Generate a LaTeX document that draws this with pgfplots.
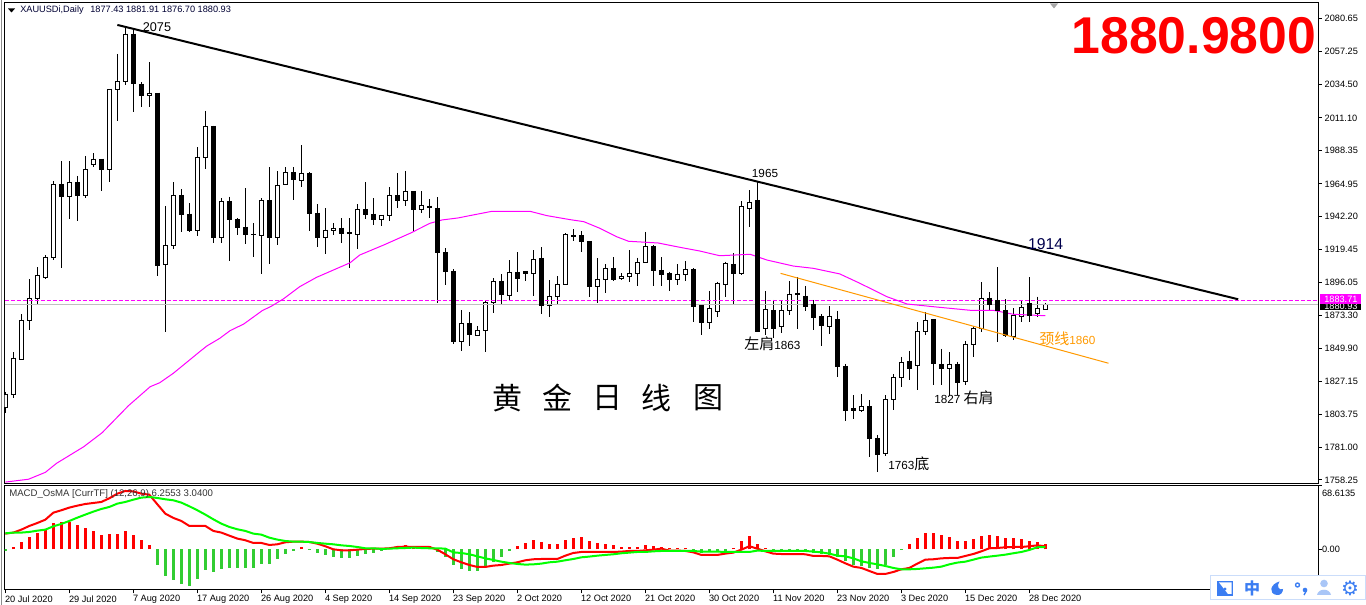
\documentclass[border=0pt]{standalone}
\usepackage{pgfplots}
\pgfplotsset{compat=1.18}
\usepackage{pgfplotstable}
\usepackage{fontspec}
\setmainfont{Liberation Sans}
\newfontfamily\cjk{Noto Sans CJK SC}
\newfontfamily\dejavu{DejaVu Sans}

\definecolor{hotpink}{HTML}{FF00FF}
\definecolor{limeg}{HTML}{32CD32}
\definecolor{sigg}{HTML}{00FF00}
\definecolor{trend}{HTML}{FF9900}
\definecolor{toolb}{HTML}{3B7DF2}
\definecolor{toollt}{HTML}{A9C6F7}

% i open high low close, rising days
\pgfplotstableread{
i o h l c
0 1808.9 1819.8 1805.2 1818.2
1 1818.0 1847.4 1815.7 1843.2
2 1842.5 1873.9 1842.5 1869.7
3 1869.7 1898.4 1863.1 1884.8
4 1884.8 1906.7 1880.6 1901.1
5 1899.7 1915.3 1898.8 1913.7
6 1913.7 1966.8 1911.8 1964.7
8 1956.0 1980.8 1940.5 1966.1
10 1956.7 1984.5 1955.1 1975.2
11 1978.4 1986.4 1977.0 1982.2
13 1975.2 2031.1 1966.5 2031.1
14 2031.1 2055.7 2009.1 2036.6
15 2036.6 2074.8 2034.3 2069.5
18 2026.6 2050.1 2018.9 2028.3
20 1908.5 1949.6 1861.8 1922.1
21 1922.1 1966.1 1919.7 1957.0
24 1932.3 1990.6 1928.8 1983.6
25 1983.6 2015.9 1975.6 2005.2
27 1927.4 1955.1 1923.9 1952.8
32 1929.1 1954.9 1902.3 1953.5
34 1927.4 1973.8 1922.5 1964.0
35 1964.7 1976.6 1964.7 1972.8
37 1967.5 1991.9 1963.0 1972.4
40 1927.4 1947.9 1916.2 1932.6
41 1932.3 1937.5 1929.3 1934.0
44 1929.8 1950.9 1919.7 1947.2
47 1940.0 1943.1 1935.8 1943.1
48 1943.1 1962.6 1939.3 1957.0
50 1953.5 1974.0 1949.8 1959.8
52 1947.2 1959.8 1944.9 1950.0
57 1855.0 1876.7 1848.5 1867.3
59 1859.2 1865.7 1859.2 1862.5
60 1862.7 1883.4 1847.8 1882.3
61 1882.3 1899.1 1875.0 1896.7
63 1887.2 1911.8 1883.4 1903.2
66 1902.5 1918.6 1886.7 1912.3
68 1880.2 1897.7 1872.2 1886.2
69 1886.2 1900.4 1881.1 1894.6
70 1894.6 1930.5 1894.6 1929.8
74 1893.2 1913.0 1881.8 1898.4
75 1898.4 1908.8 1888.8 1906.0
77 1898.8 1902.5 1897.9 1900.4
78 1900.2 1918.6 1896.7 1902.5
79 1902.5 1913.4 1893.7 1909.9
80 1909.9 1931.4 1909.9 1921.4
84 1898.1 1908.8 1894.4 1901.6
85 1901.6 1911.1 1897.4 1905.3
88 1868.0 1890.2 1863.8 1878.1
89 1875.7 1896.7 1872.2 1895.6
90 1894.6 1910.6 1886.2 1909.5
92 1902.3 1952.8 1901.4 1949.1
93 1947.9 1960.7 1935.1 1952.1
95 1863.8 1890.0 1859.4 1877.4
97 1865.2 1883.2 1860.6 1876.7
98 1876.7 1897.0 1873.4 1887.9
103 1865.5 1879.7 1860.4 1872.5
107 1806.6 1818.2 1805.5 1809.4
110 1776.5 1817.5 1775.1 1814.5
111 1814.5 1832.2 1807.1 1829.9
112 1829.9 1844.1 1823.3 1840.4
114 1838.3 1868.3 1821.0 1861.8
115 1861.8 1875.3 1859.4 1869.7
118 1835.9 1847.4 1816.8 1839.0
120 1827.1 1855.3 1824.5 1853.0
121 1853.0 1865.7 1844.3 1864.1
122 1864.1 1896.3 1861.8 1885.1
126 1858.7 1878.1 1856.0 1873.2
127 1872.5 1883.2 1868.7 1878.8
129 1874.6 1886.2 1871.8 1878.1
130 1877.43 1881.91 1876.70 1880.93
}\bulls

% falling days
\pgfplotstableread{
i o h l c
7 1964.7 1980.8 1906.2 1956.0
9 1966.1 1970.5 1939.3 1956.7
12 1982.2 1982.2 1960.2 1974.9
16 2069.5 2073.4 2015.4 2035.3
17 2034.6 2036.0 2018.9 2026.6
19 2028.3 2028.3 1900.9 1908.3
22 1957.0 1961.4 1931.6 1943.5
23 1943.8 1951.4 1931.6 1932.1
26 2005.2 2005.6 1923.9 1927.4
28 1952.8 1956.0 1911.3 1940.0
29 1939.8 1941.0 1929.3 1934.4
30 1934.7 1961.9 1923.0 1929.5
31 1929.7 1937.5 1914.1 1929.3
33 1953.5 1976.6 1909.0 1927.4
36 1973.1 1976.6 1953.7 1968.2
38 1972.4 1973.1 1932.3 1944.5
39 1944.5 1950.9 1921.1 1927.4
42 1934.0 1941.0 1923.9 1930.0
43 1930.7 1941.0 1906.0 1930.3
45 1947.2 1966.1 1940.5 1943.5
46 1943.8 1954.9 1936.3 1940.0
49 1957.0 1972.4 1948.4 1953.3
51 1959.8 1959.8 1932.3 1947.2
53 1949.5 1954.2 1941.4 1948.6
54 1947.9 1955.6 1882.0 1916.9
55 1917.2 1920.0 1894.4 1903.7
56 1903.9 1905.3 1853.2 1854.8
58 1867.3 1875.3 1852.0 1859.7
62 1897.0 1901.8 1881.1 1887.6
64 1903.2 1917.2 1889.5 1899.1
65 1903.9 1903.9 1897.4 1902.3
67 1913.0 1920.7 1874.1 1880.2
71 1929.1 1933.3 1925.3 1928.1
72 1929.1 1931.9 1917.4 1924.6
73 1924.9 1924.9 1886.0 1893.2
76 1906.0 1913.7 1897.4 1897.9
81 1921.4 1922.1 1893.7 1904.4
82 1904.6 1913.7 1893.7 1901.4
83 1902.5 1903.7 1890.4 1898.1
86 1905.3 1906.0 1868.5 1879.2
87 1879.7 1879.7 1859.7 1868.0
91 1908.8 1916.5 1880.6 1902.3
94 1953.5 1966.1 1861.8 1861.8
96 1876.7 1883.9 1857.1 1864.3
99 1888.6 1899.7 1863.6 1887.9
100 1886.5 1893.7 1876.4 1879.2
101 1880.4 1883.9 1862.9 1871.5
102 1872.5 1873.9 1852.0 1865.9
104 1870.4 1876.2 1830.3 1837.3
105 1837.6 1839.2 1799.6 1806.6
106 1807.8 1817.5 1801.0 1806.9
108 1809.6 1814.0 1774.0 1787.0
109 1787.3 1789.6 1764.0 1775.8
113 1841.1 1848.3 1828.0 1835.9
116 1870.4 1870.4 1824.5 1839.4
117 1839.0 1849.7 1824.5 1835.9
119 1839.0 1840.8 1817.5 1826.1
123 1885.1 1889.3 1876.9 1880.6
124 1883.4 1906.7 1854.8 1876.4
125 1876.7 1884.4 1858.3 1859.4
128 1881.6 1899.7 1868.7 1873.2
}\bears

% moving average
\pgfplotstableread{
i ma
0 1756.7
2.9 1758.7
5.0 1763.5
6.4 1769.8
9.8 1781.4
12.1 1791.2
15.4 1810.1
18.1 1823.3
19.3 1826.1
21.0 1832.7
24.3 1847.8
25.2 1851.8
26.8 1857.1
28.1 1862.5
29.8 1867.1
32.1 1876.4
33.3 1879.7
34.8 1884.8
36.8 1893.2
38.9 1899.7
41.0 1904.8
43.1 1909.9
44.3 1915.3
47.3 1922.3
50.6 1930.5
53.1 1937.5
54.6 1939.8
56.6 1941.2
58.5 1943.3
60.8 1945.8
65.6 1945.8
67.7 1942.8
70.6 1940.0
72.3 1938.6
74.3 1934.0
76.4 1928.1
77.9 1924.9
81.6 1923.7
84.3 1920.7
86.8 1918.1
89.3 1914.8
93.1 1915.8
95.2 1911.8
98.5 1907.6
101.0 1906.0
104.3 1902.1
106.8 1895.6
110.2 1886.2
112.7 1881.1
116.0 1879.2
120.6 1876.7
123.5 1876.7
126.0 1873.9
130.0 1872.9
}\matable

% i osma macd signal
\pgfplotstableread{
i osma macd sig
0 -1.5 17.0 17.3
1 2.2 18.1 18.1
2 7.6 21.3 18.1
3 13.0 25.3 18.8
4 17.3 28.5 20.2
5 20.6 32.1 21.3
6 28.2 39.7 24.9
7 29.2 42.3 27.5
8 29.2 45.2 30.7
9 26.0 47.3 34.3
10 22.7 49.1 37.6
11 19.5 50.2 40.8
12 15.5 51.3 43.7
13 16.2 55.3 45.9
14 16.2 60.3 49.5
15 19.5 63.2 51.3
16 15.2 62.8 53.8
17 9.7 60.3 56.0
18 4.3 59.2 56.7
19 -17.0 48.8 55.6
20 -29.2 38.6 54.2
21 -33.6 34.0 53.1
22 -37.9 30.7 50.6
23 -40.0 25.3 46.6
24 -32.5 25.3 42.3
25 -22.7 25.3 37.6
26 -24.9 19.9 32.5
27 -21.7 18.1 27.8
28 -20.6 14.8 24.2
29 -20.6 11.6 21.7
30 -20.6 9.8 19.9
31 -20.6 6.9 17.0
32 -16.2 6.9 15.9
33 -16.2 4.7 12.6
34 -10.8 5.4 10.5
35 -5.4 7.6 9.0
36 -2.2 8.3 8.3
37 2.2 8.3 8.3
38 -0.5 7.9 7.9
39 -4.3 6.1 6.9
40 -6.5 3.3 6.1
41 -8.7 0.0 5.4
42 -9.7 -1.1 4.3
43 -9.7 -1.1 3.6
44 -7.6 -0.4 2.5
45 -5.4 0.4 1.1
46 -4.3 0.7 1.1
47 -2.2 0.7 0.4
48 1.0 1.1 0.7
49 3.2 2.5 1.1
50 4.3 2.9 1.4
51 3.2 2.5 1.8
52 3.2 2.5 1.4
53 3.2 2.5 1.1
54 -2.9 -0.4 1.1
55 -8.7 -5.4 0.7
56 -17.3 -10.8 -3.3
57 -21.7 -14.1 -4.0
58 -23.8 -17.0 -5.4
59 -23.8 -19.1 -7.6
60 -18.4 -19.1 -9.8
61 -14.0 -17.7 -11.6
62 -8.7 -17.0 -13.4
63 -2.2 -15.5 -14.8
64 3.2 -14.1 -15.9
65 6.5 -11.9 -16.6
66 9.7 -10.8 -16.3
67 7.6 -10.5 -15.5
68 5.4 -10.5 -14.1
69 5.4 -10.5 -13.4
70 9.7 -6.9 -11.9
71 11.9 -4.0 -10.5
72 13.0 -2.9 -8.7
73 8.7 -2.9 -7.9
74 6.5 -2.9 -6.9
75 5.4 -2.9 -6.1
76 4.3 -2.9 -5.4
77 2.2 -2.5 -4.3
78 2.2 -1.8 -3.6
79 2.2 -1.8 -2.9
80 4.3 -1.1 -2.9
81 3.2 -0.4 -2.2
82 2.2 0.7 -1.8
83 1.1 -1.4 -1.8
84 1.1 -1.4 -1.8
85 1.1 -1.8 -1.8
86 -2.2 -3.3 -1.8
87 -4.3 -6.1 -2.5
88 -3.2 -6.1 -2.5
89 -3.2 -6.1 -2.5
90 -3.2 -4.7 -2.9
91 1.1 -3.6 -2.9
92 8.7 -0.4 -2.9
93 14.0 3.3 -2.9
94 5.4 0.7 -1.4
95 1.1 -2.2 -1.8
96 -2.2 -4.7 -1.8
97 -3.2 -5.1 -1.8
98 -3.2 -5.1 -1.8
99 -3.2 -5.1 -1.8
100 -3.2 -5.4 -1.8
101 -4.3 -7.2 -2.5
102 -5.4 -7.2 -3.3
103 -6.5 -7.6 -4.7
104 -8.7 -11.2 -6.9
105 -13.0 -15.2 -7.6
106 -17.3 -18.8 -9.8
107 -18.4 -20.2 -13.0
108 -20.6 -23.5 -14.8
109 -21.7 -26.7 -16.3
110 -17.3 -26.7 -18.1
111 -8.7 -24.6 -20.2
112 -0.5 -21.7 -21.7
113 5.4 -20.2 -21.7
114 11.9 -15.5 -21.3
115 17.3 -11.2 -20.6
116 17.3 -10.8 -19.9
117 15.2 -9.8 -18.8
118 13.0 -9.4 -16.3
119 8.7 -9.4 -14.4
120 8.7 -7.2 -13.4
121 10.8 -5.1 -11.2
122 14.0 -2.2 -9.0
123 15.2 1.1 -7.9
124 14.4 1.4 -6.9
125 11.9 2.2 -5.8
126 11.9 2.5 -4.3
127 10.8 2.5 -2.9
128 8.7 3.3 -0.7
129 7.6 4.3 2.2
130 6.0 3.3 2.5
}\macd

\pgfplotsset{
  mt4/.style={
    scale only axis, width=985.2pt,
    xmin=-0.079, xmax=164.12,
    axis line style={line width=.75pt},
    tick style={black, line width=.75pt},
    tick align=outside, major tick length=2.6pt,
    ytick pos=right, yticklabel pos=right,
    tick label style={font=\fontsize{6.9}{8}\selectfont},
    y tick label style={anchor=west, inner sep=0pt},
  },
  % candle wicks and bodies are error bars with no marks
  body/.style 2 args={draw=none, mark=none, forget plot,
    error bars/.cd, y dir=minus, y explicit, error mark=none,
    error bar style={line width=#1, #2}},
}

\begin{document}
\begin{tikzpicture}
\path[use as bounding box] (0,0) rectangle (1024.5pt,453.75pt);

% price panel
\begin{axis}[mt4, at={(3.525pt,91.275pt)}, anchor=south west, height=360.6pt,
  ymin=1755.86, ymax=2091.68, xtick=\empty,
  ytick={1758.25,1781.00,1803.75,1827.15,1849.90,1873.30,1896.05,1919.45,1942.20,1964.95,1988.35,2011.10,2034.50,2057.25,2080.65},
  yticklabel style={xshift=2pt, /pgf/number format/.cd, fixed, fixed zerofill, precision=2, 1000 sep={}, assume math mode=true},
  ]
\addplot[body={.75pt}{black}] table[x=i, y=h, y error expr=\thisrow{h}-\thisrow{l}] {\bulls};
\addplot[body={.75pt}{black}] table[x=i, y=h, y error expr=\thisrow{h}-\thisrow{l}] {\bears};
\addplot[body={3.75pt}{black}] table[x=i, y expr=\thisrow{c}+0.35, y error expr=\thisrow{c}-\thisrow{o}+0.7] {\bulls};
\addplot[body={2.25pt}{white}] table[x=i, y expr=\thisrow{c}-0.35, y error expr=\thisrow{c}-\thisrow{o}-0.7] {\bulls};

\addplot[draw=black!25, line width=.75pt, forget plot] coordinates {(-0.079,1880.93) (164.12,1880.93)};
\addplot[hotpink, line width=.75pt, dash pattern=on 3pt off 1.5pt, forget plot] coordinates {(-0.079,1883.71) (164.12,1883.71)};
\addplot[hotpink, line width=.75pt, forget plot] table[x=i, y=ma] {\matable};

\addplot[body={3.75pt}{black}] table[x=i, y expr=\thisrow{o}+0.35, y error expr=\thisrow{o}-\thisrow{c}+0.7] {\bears};

% trend lines
\addplot[black, line width=1.5pt, forget plot] coordinates {(14.0,2076.0) (154.1,1884.4)};
\addplot[trend, line width=.75pt, forget plot] coordinates {(96.9,1902.5) (137.9,1839.7)};
\end{axis}

% MACD panel
\begin{axis}[mt4, at={(3.525pt,11.25pt)}, anchor=south west, height=78.525pt,
  ymin=-44.1, ymax=69.36,
  xtick={0,8,...,128}, xtick pos=bottom,
  xticklabels={20 Jul 2020,29 Jul 2020,7 Aug 2020,17 Aug 2020,26 Aug 2020,4 Sep 2020,14 Sep 2020,23 Sep 2020,2 Oct 2020,12 Oct 2020,21 Oct 2020,30 Oct 2020,11 Nov 2020,23 Nov 2020,3 Dec 2020,15 Dec 2020,28 Dec 2020},
  x tick label style={anchor=north west, inner sep=0pt, xshift=-0.4pt, yshift=-1.3pt},
  ytick={0,68.6135}, yticklabels={0.00,\raisebox{-7.65pt}[0pt][0pt]{68.6135}},
  ]
\addplot[ycomb, red, line width=2.25pt, mark=none, y filter/.expression={y>0 ? y : nan}] table[x=i, y=osma] {\macd};
\addplot[ycomb, limeg, line width=2.25pt, mark=none, y filter/.expression={y<0 ? y : nan}] table[x=i, y=osma] {\macd};
\addplot[red, line width=1.5pt, mark=none] table[x=i, y=macd] {\macd};
\addplot[sigg, line width=1.5pt, mark=none] table[x=i, y=sig] {\macd};
\end{axis}

% the window's furniture and the hand-written notes, in screen pixels
\begin{scope}[x=0.75pt, y=-0.75pt, shift={(0pt,453.75pt)}]
\fill[black!45] (0.8,0) rectangle (2.4,605);
\fill[black] (8,8.5) -- (15,8.5) -- (11.5,12.5) -- cycle;
\fill[black!35] (1050,3.5) -- (1058,3.5) -- (1054,8.5) -- cycle;

\tikzset{small/.style={inner sep=0pt, font=\fontsize{6.9}{8}\selectfont}}
\node[small, anchor=west, text=black!80!blue] at (20,10) {XAUUSDi,Daily\hspace{5pt}1877.43 1881.91 1876.70 1880.93};
\node[small, anchor=west, text=black!80, font=\fontsize{7.2}{8}\selectfont] at (9,494.5) {MACD\_OsMA [CurrTF] (12,26,9) 6.2553 3.0400};

\node[inner sep=0pt, anchor=east, text=red, font=\fontsize{38.8}{40}\bfseries] at (1316.5,36) {1880.9800};

\node[inner sep=0pt, font=\fontsize{9.5}{11}\selectfont] at (157,27) {2075};
\node[inner sep=0pt, font=\fontsize{8.8}{11}\selectfont] at (765,173) {1965};
\node[inner sep=0pt, font=\fontsize{11.8}{13}\selectfont, text=blue!30!black] at (1045.5,244) {1914};
\node[inner sep=0pt, anchor=west, font=\fontsize{8.8}{11}\selectfont] at (744,344) {{\cjk\fontsize{11.25}{11}\selectfont 左肩}1863};
\node[inner sep=0pt, anchor=west, font=\fontsize{8.8}{11}\selectfont] at (934,397.5) {1827 {\cjk\fontsize{11.25}{11}\selectfont 右肩}};
\node[inner sep=0pt, anchor=west, font=\fontsize{8.8}{11}\selectfont] at (888,464) {1763{\cjk\fontsize{11.25}{11}\selectfont 底}};
\node[inner sep=0pt, anchor=west, font=\fontsize{8.8}{11}\selectfont, text=trend] at (1039,339) {{\cjk\fontsize{11.25}{11}\selectfont 颈线}1860};
\foreach \cx/\ch in {507/黄,557/金,607/日,656/线,708/图}
  \node[inner sep=0pt, font={\cjk\fontsize{22.5}{24}\selectfont}] at (\cx,398) {\ch};

% current price flags
\fill[black] (1320,304) rectangle (1361,310.5);
\node[small, text=white, anchor=west] at (1324,306.5) {1880.93};
\fill[hotpink] (1320,294.5) rectangle (1361,304.3);
\node[small, text=white, anchor=west] at (1324,299.5) {1883.71};

% toolbar
\filldraw[fill=white, draw=toollt!60, line width=.75pt] (1210.5,575.5) rectangle (1365.5,600);
\fill[toolb] (1217,581) rectangle (1233,596);
\fill[white] (1219,582.5) -- (1231.5,582.5) -- (1231.5,594) -- (1228,594) -- cycle;
\fill[toolb] (1225,589) circle (1.6);
\node[inner sep=0pt, text=toolb, font={\cjk\bfseries\fontsize{12}{13}\selectfont}] at (1252,588) {中};
\fill[toolb] (1279.5,581.5) .. controls (1270,584) and (1268,594) .. (1277,595) .. controls (1281,595.5) and (1283,592) .. (1283,589) .. controls (1279,591) and (1276,586) .. cycle;
\draw[toolb, line width=1pt] (1297.5,585) circle (2);
\fill[toolb] (1305,590) circle (2.3);
\draw[toolb, line width=1pt] (1306.5,590.5) -- (1304,595);
\fill[toollt] (1324,583.5) circle (3.8);
\fill[toollt] (1317,595) .. controls (1318,588) and (1330,588) .. (1331,595) -- cycle;
\node[inner sep=0pt, text=toolb, font={\dejavu\fontsize{15}{16}\selectfont}] at (1350,588) {⚙};
\end{scope}
\end{tikzpicture}
\end{document}
